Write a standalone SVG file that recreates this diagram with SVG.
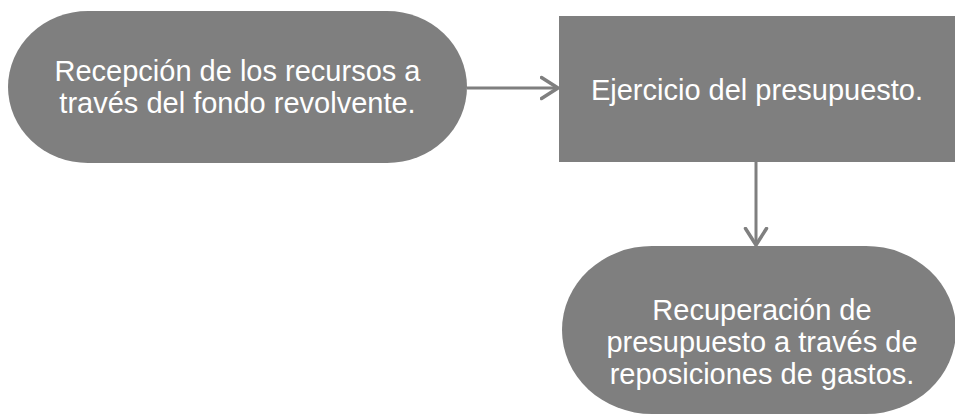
<svg xmlns="http://www.w3.org/2000/svg" width="955" height="416" viewBox="0 0 955 416">
<style>
.node{fill:#7f7f7f;}
.lbl{fill:#ffffff;font-family:"Liberation Sans",Arial,sans-serif;font-size:29px;text-anchor:middle;}
.conn{stroke:#7f7f7f;stroke-width:3;fill:none;}
</style>
<defs>
<marker id="arr" markerUnits="userSpaceOnUse" markerWidth="24" markerHeight="28" refX="18" refY="12" orient="auto" viewBox="0 0 24 24">
<path d="M1.5,1.5 L18,12 L1.5,22.5" fill="none" stroke="#7f7f7f" stroke-width="3.5" stroke-linecap="round" stroke-linejoin="round"/>
</marker>
</defs>
<rect width="955" height="416" fill="#ffffff"/>
<g id="connectors">
<line class="conn" x1="467" y1="88" x2="558" y2="88" marker-end="url(#arr)"/>
<line class="conn" x1="756" y1="162" x2="756" y2="245" marker-end="url(#arr)"/>
</g>
<g id="node1">
<rect class="node" x="8" y="11" width="459" height="152" rx="80" ry="76"/>
<text class="lbl" x="237.5" y="81">Recepción de los recursos a</text>
<text class="lbl" x="237.5" y="113">través del fondo revolvente.</text>
</g>
<g id="node2">
<rect class="node" x="559" y="16" width="397" height="146"/>
<text class="lbl" x="757" y="100">Ejercicio del presupuesto.</text>
</g>
<g id="node3">
<rect class="node" x="562" y="246" width="394" height="168" rx="90" ry="84"/>
<text class="lbl" x="762" y="320">Recuperación de</text>
<text class="lbl" x="762" y="352">presupuesto a través de</text>
<text class="lbl" x="762" y="384">reposiciones de gastos.</text>
</g>
</svg>
